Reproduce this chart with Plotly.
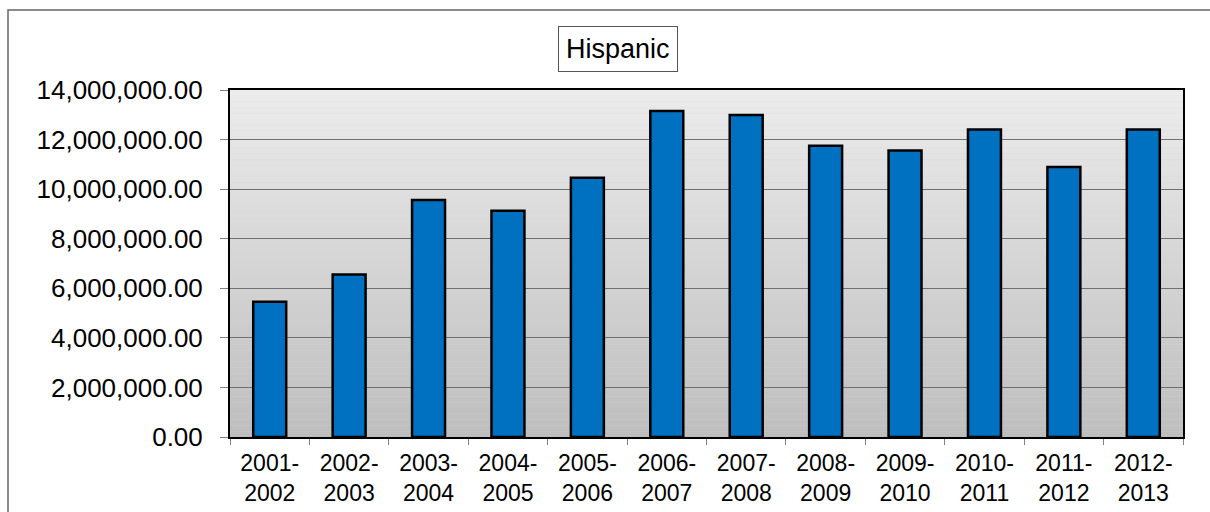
import plotly.graph_objects as go

categories = ["2001-<br>2002", "2002-<br>2003", "2003-<br>2004", "2004-<br>2005",
              "2005-<br>2006", "2006-<br>2007", "2007-<br>2008", "2008-<br>2009",
              "2009-<br>2010", "2010-<br>2011", "2011-<br>2012", "2012-<br>2013"]
values = [5460000, 6560000, 9560000, 9130000, 10460000, 13150000,
          12990000, 11750000, 11560000, 12410000, 10890000, 12410000]
y_ticks = [0, 2000000, 4000000, 6000000, 8000000, 10000000, 12000000, 14000000]
title_text = "Hispanic"

W, H = 1210, 512
L, R, T, B = 230, 27, 90, 75
pw, ph = W - L - R, H - T - B

fig = go.Figure()
fig.add_trace(go.Bar(
    x=categories, y=values,
    marker=dict(color="#0070C0", line=dict(color="black", width=2.5)),
))

shapes = []
n = 60
top = (236, 236, 236)
bot = (190, 190, 190)
for i in range(n):
    f = (i + 0.5) / n
    c = tuple(int(round(bot[k] + (top[k] - bot[k]) * f)) for k in range(3))
    shapes.append(dict(type="rect", xref="paper", yref="paper",
                       x0=0, x1=1, y0=i / n, y1=(i + 1) / n,
                       fillcolor="rgb(%d,%d,%d)" % c, line=dict(width=0), layer="below"))
# outer chart frame (right and bottom edges fall outside the picture)
shapes.append(dict(type="rect", xref="paper", yref="paper",
                   x0=(8 - L) / pw, x1=(W + 60 - L) / pw,
                   y0=-(B + 40) / ph, y1=(H - B - 10) / ph,
                   line=dict(color="#666666", width=1.5), fillcolor="rgba(0,0,0,0)", layer="above"))

fig.update_layout(
    width=W, height=H,
    margin=dict(l=L, r=R, t=T, b=B, autoexpand=False),
    paper_bgcolor="white",
    plot_bgcolor="#d5d5d5",
    bargap=0.585,
    showlegend=False,
    font=dict(family="Liberation Sans, Arial, sans-serif", color="black"),
    shapes=shapes,
    annotations=[dict(
        text=title_text, xref="paper", yref="paper",
        x=(618 - L) / pw, y=(H - B - 49) / ph,
        xanchor="center", yanchor="middle", showarrow=False,
        font=dict(size=27, color="black"),
        bordercolor="#555555", borderwidth=1, borderpad=7, bgcolor="white",
    )],
)
fig.update_yaxes(
    range=[0, 14000000], tickvals=y_ticks, tickformat=",.2f",
    showgrid=True, gridcolor="#707070", gridwidth=1,
    ticks="outside", ticklen=8, tickcolor="#808080",
    tickfont=dict(size=26), ticklabelstandoff=12, automargin=False,
    showline=True, linecolor="black", linewidth=2, mirror=True, zeroline=False,
)
fig.update_xaxes(
    ticks="outside", tickson="boundaries", ticklen=6, tickcolor="#808080",
    tickfont=dict(size=23), ticklabelstandoff=4, showgrid=False, automargin=False,
    showline=True, linecolor="black", linewidth=2, mirror=True,
)
fig.write_html("out.html")
